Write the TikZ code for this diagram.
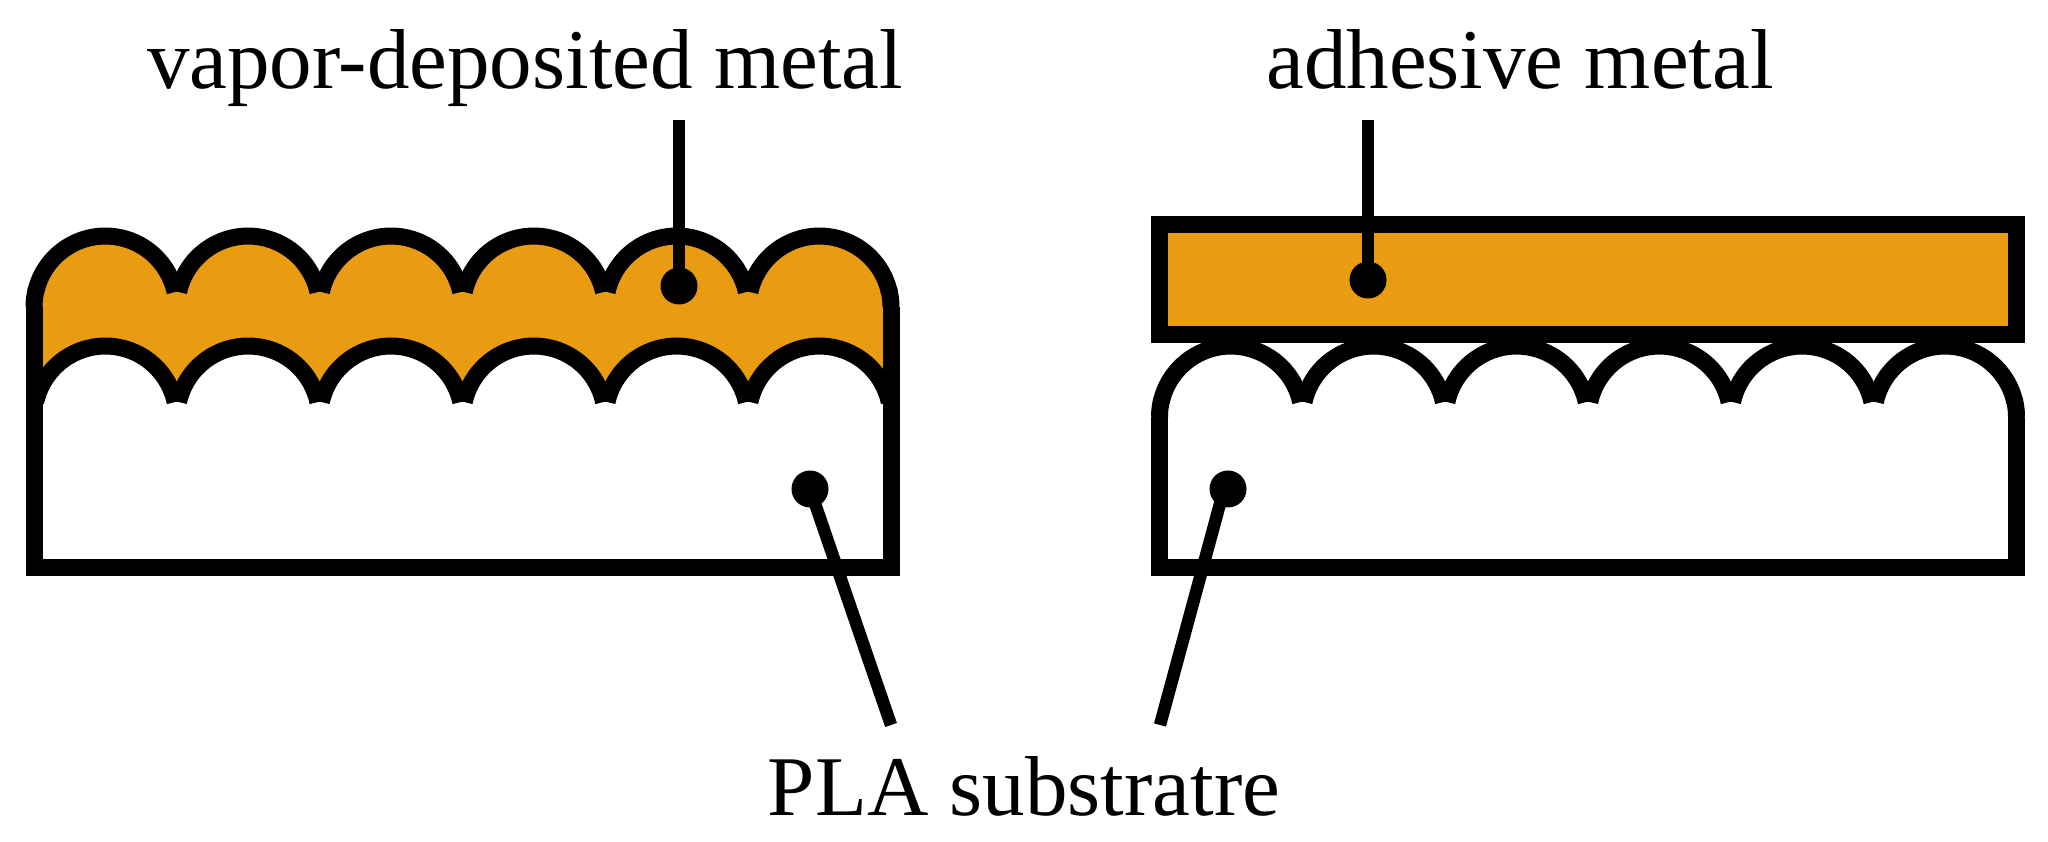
\documentclass[tikz,border=0pt]{standalone}
\usepackage{fontspec}
\setmainfont{Liberation Serif}
\definecolor{metalfill}{RGB}{233,155,18}
\newcommand{\humpright}{arc (167.5:12.5:71.4) -- ++(3.4,0)}
\newcommand{\humpleft}{arc (12.5:167.5:71.4) -- ++(-3.4,0)}
\tikzset{
  outline/.style={line width=8.5pt,black},
  leader/.style={line width=6.2pt,black},
  pin/.style={circle,fill=black,inner sep=0pt,minimum size=18.5pt},
  caption/.style={anchor=base,inner sep=0pt,font=\fontsize{42.5}{50}\selectfont}
}
\begin{document}
\begin{tikzpicture}[x=0.5pt,y=0.5pt]
    \useasboundingbox (0,0) rectangle (2048,841);
    % left: vapor-deposited layer
    \fill [metalfill] (35.7,549) \humpright \humpright \humpright \humpright \humpright \humpright
      -- (889.3,439) \humpleft \humpleft \humpleft \humpleft \humpleft \humpleft -- cycle;
    \foreach \k [evaluate=\k as \xa using 35.7+142.83*\k] in {0,...,5}{
      \draw [outline] (\xa,549) arc (167.5:12.5:71.4);
      \draw [outline] (\xa,439) arc (167.5:12.5:71.4);
    }
    \foreach \k [evaluate=\k as \xa using 34+142.83*\k] in {1,...,5}{
      \draw [outline] (\xa,549)--(\xa,558);
      \draw [outline] (\xa,439)--(\xa,448);
    }
    \draw [outline] (34,534)--(34,273.5)--(891,273.5)--(891,534);
    \draw [outline] (34,534) arc (180:165:71.4);
    \draw [outline] (891,534) arc (0:15:71.4);
    % right: adhesive layer on the substrate
    \foreach \k [evaluate=\k as \xa using 1161.2+142.83*\k] in {0,...,5}{
      \draw [outline] (\xa,439) arc (167.5:12.5:71.4);
    }
    \foreach \k [evaluate=\k as \xa using 1159.5+142.83*\k] in {1,...,5}{
      \draw [outline] (\xa,439)--(\xa,448);
    }
    \draw [outline] (1159.5,424)--(1159.5,273.5)--(2016.5,273.5)--(2016.5,424);
    \draw [outline] (1159.5,424) arc (180:165:71.4);
    \draw [outline] (2016.5,424) arc (0:15:71.4);
    \draw [outline,fill=metalfill] (1159.5,506) rectangle (2016.5,616);
    % labels
    \node [caption] (vapor) at (525,752) {vapor-deposited metal};
    \node [caption] (adhesive) at (1520,752) {adhesive metal};
    \node [caption] (pla) at (1024,26) {PLA substratre};
    % pins and leaders
    \node [pin] (pinvapor) at (679,555) {};
    \node [pin] (pinadhesive) at (1368,561) {};
    \node [pin] (pinleft) at (810,352) {};
    \node [pin] (pinright) at (1228,352) {};
    \coordinate (topvapor) at (679,721);
    \coordinate (topadhesive) at (1368,721);
    \coordinate (endleft) at (891,116);
    \coordinate (endright) at (1160,116);
    \draw [leader] (topvapor)--(pinvapor.center);
    \draw [leader] (topadhesive)--(pinadhesive.center);
    \draw [leader] (pinleft.center)--(endleft);
    \draw [leader] ([xshift=-2pt]pinright.center)--(endright);
  \end{tikzpicture}
\end{document}
